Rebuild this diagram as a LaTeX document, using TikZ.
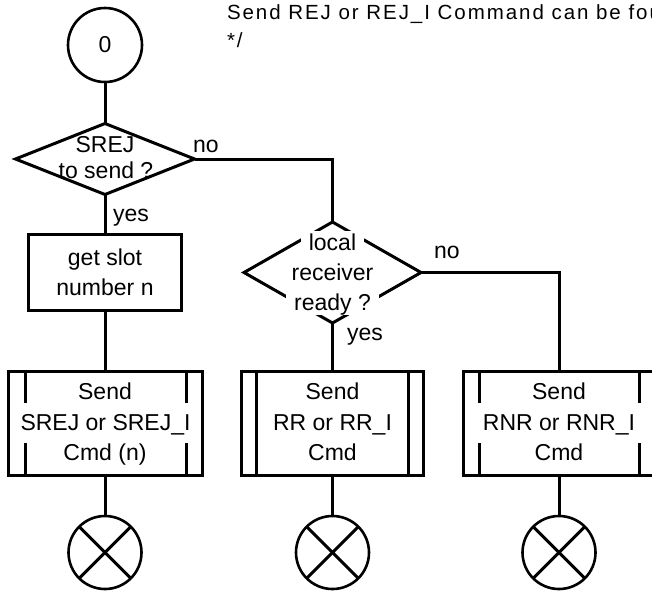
\documentclass[tikz,border=0pt]{standalone}
\usepackage{fontspec}
\setmainfont{Liberation Sans}
\newfontfamily\titlefont[LetterSpace=9.5]{Liberation Sans}
\usetikzlibrary{shapes.geometric}
\begin{document}
\begin{tikzpicture}[x=1pt,y=-1pt,
  line width=3pt,
  every node/.style={inner sep=0pt, outer sep=0pt},
  lbl/.style={font=\fontsize{23}{30}\selectfont, anchor=base, text height=17pt, text depth=3pt},
  maskd/.style={lbl, fill=white, inner xsep=8pt, inner ysep=2pt},
  maskb/.style={lbl, fill=white, inner xsep=8pt, inner ysep=10pt},
  ttl/.style={font={\titlefont\fontsize{20.5}{28}\selectfont}, anchor=base west},
  startc/.style={circle, draw, line width=2.6pt, minimum size=74pt, font=\fontsize{23}{30}\selectfont},
  endc/.style={circle, draw, line width=2.6pt, minimum size=73pt},
  decis/.style={diamond, draw, inner sep=0pt},
  actbox/.style={rectangle, draw, minimum width=153pt, minimum height=76pt},
  callbox/.style={rectangle, draw, minimum height=104pt},
]
\useasboundingbox (0,0) rectangle (652,592);
\clip (0,0) rectangle (652,592);

% comment text
\node[ttl] (t1) at (227,19) {Send REJ or REJ\_I Command can be fou};
\node[ttl] (t2) at (227,47) {*/};

% column 1
\node[startc] (s) at (105,45) {0};
\node[decis, minimum width=179pt, minimum height=71pt] (d1) at (105,159) {};
\node[lbl] (d1a) at (105,152) {SREJ};
\node[lbl] (d1b) at (106,178) {to send ?};
\node[lbl, anchor=base west] (no1) at (193,152) {no};
\node[lbl, anchor=base west] (yes1) at (113,221) {yes};

\node[actbox] (gs) at (105,272) {};
\node[lbl] (gsa) at (105,265) {get slot};
\node[lbl] (gsb) at (105,295) {number n};

% column 2 decision
\node[decis, minimum width=177pt, minimum height=101pt] (d2) at (332.5,272.5) {};
\node[maskd] (d2a) at (332.5,250) {local};
\node[maskd] (d2b) at (332.5,280) {receiver};
\node[maskd] (d2c) at (332.5,310) {ready ?};
\node[lbl, anchor=base west] (no2) at (434,258) {no};
\node[lbl, anchor=base west] (yes2) at (347,340) {yes};

% send boxes
\node[callbox, minimum width=194pt] (sb1) at (105,423) {};
\node[callbox, minimum width=182pt] (sb2) at (332.5,423) {};
\node[callbox, minimum width=192pt] (sb3) at (559,423) {};
\foreach \b/\l/\r in {sb1/17/16, sb2/15/15, sb3/16/16}{
  \draw ([xshift=\l pt]\b.north west) -- ([xshift=\l pt]\b.south west);
  \draw ([xshift=-\r pt]\b.north east) -- ([xshift=-\r pt]\b.south east);
}
\node[lbl] (sb1a) at (105,399) {Send};
\node[maskb] (sb1b) at (105.5,430) {SREJ or SREJ\_I};
\node[lbl] (sb1c) at (105,460) {Cmd (n)};
\node[lbl] (sb2a) at (332.5,399) {Send};
\node[maskb] (sb2b) at (332.5,430) {RR or RR\_I};
\node[lbl] (sb2c) at (332.5,460) {Cmd};
\node[lbl] (sb3a) at (559,399) {Send};
\node[maskb] (sb3b) at (559,430) {RNR or RNR\_I};
\node[lbl] (sb3c) at (559,460) {Cmd};
% redraw outer borders on top
\foreach \b in {sb1,sb2,sb3}{
  \draw (\b.north west) rectangle (\b.south east);
}

% end circles
\node[endc] (e1) at (105,552.5) {};
\node[endc] (e2) at (332.5,552.5) {};
\node[endc] (e3) at (559,552.5) {};
\foreach \e in {e1,e2,e3}{
  \draw (\e.45) -- (\e.225);
  \draw (\e.135) -- (\e.315);
}

% connectors
\draw (s.south) -- (d1.north);
\draw (d1.south) -- (gs.north);
\draw (gs.south) -- (sb1.north);
\draw (sb1.south) -- (e1.north);
\draw (d1.east) -| (d2.north);
\draw (d2.south) -- (sb2.north);
\draw (sb2.south) -- (e2.north);
\draw (d2.east) -| (sb3.north);
\draw (sb3.south) -- (e3.north);
\end{tikzpicture}
\end{document}
